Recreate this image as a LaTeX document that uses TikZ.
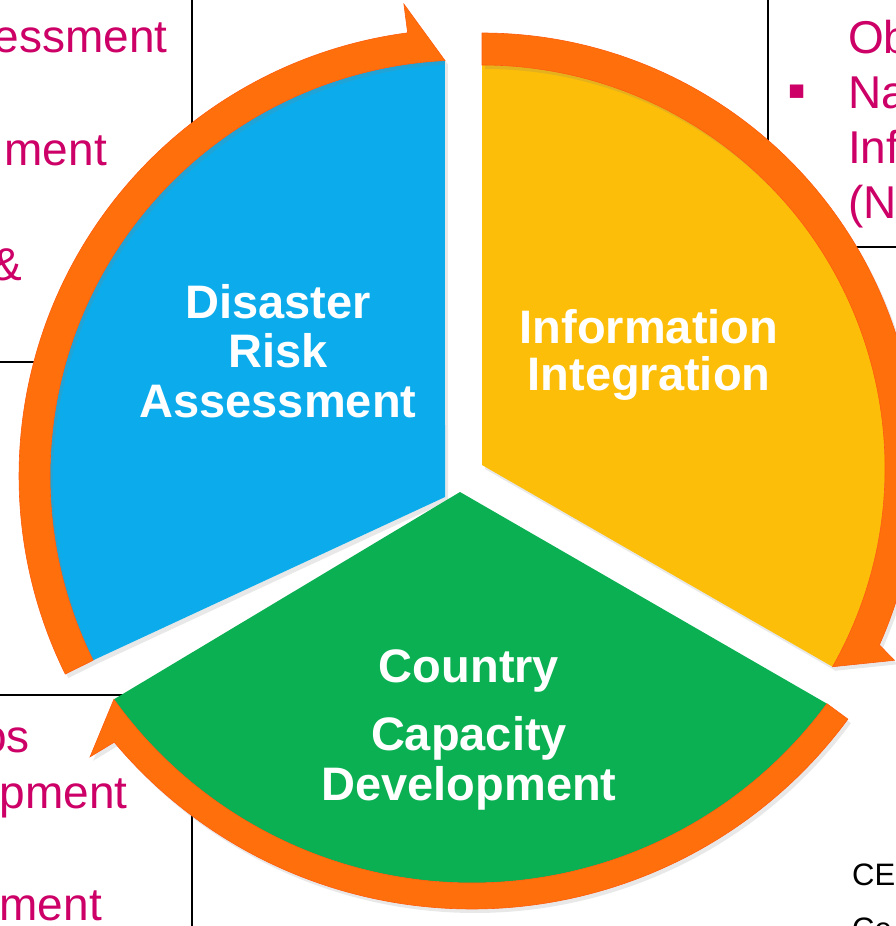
\documentclass[tikz,border=0pt]{standalone}
\usepackage{fontspec}
\setmainfont{Liberation Sans}
\usetikzlibrary{calc,shadows}

\definecolor{riskblue}{RGB}{12,172,236}
\definecolor{infoyellow}{RGB}{252,190,8}
\definecolor{capgreen}{RGB}{10,176,82}
\definecolor{bandorange}{RGB}{255,112,12}
\definecolor{notemagenta}{RGB}{204,0,102}

\begin{document}
\begin{tikzpicture}[x=1pt,y=-1pt,
  wedgetext/.style={text=white, font=\bfseries\fontsize{47}{49.5}\selectfont, align=center, anchor=base, inner sep=0pt},
  sidetext/.style={text=notemagenta, font=\fontsize{46}{55}\selectfont, inner sep=0pt},
  boxline/.style={draw=black, line width=2pt},
  wedge/.style={drop shadow={opacity=0.18, shadow xshift=3pt, shadow yshift=-4pt}},
  band/.style={fill=bandorange, draw=bandorange!80!red, line width=0.6pt,
    drop shadow={opacity=0.18, shadow xshift=3pt, shadow yshift=-4pt}}]
\useasboundingbox (0,0) rectangle (896,926);
\clip (0,0) rectangle (896,926);

% boxes behind the wheel
\draw[boxline] (-10,-10) rectangle (192,362);
\draw[boxline] (768,-10) rectangle (906,247);
\draw[boxline] (-10,695) rectangle (192,936);

% texts of the boxes
\node[sidetext, anchor=base east] (tlA) at (168,52) {essment};
\node[sidetext, anchor=base east] (tlB) at (107,165) {ment};
\node[sidetext, anchor=base east] (tlC) at (22,280) {\&};
\node[sidetext, anchor=base west] (trA) at (848,53) {Ob};
\node[sidetext, font=\fontsize{54}{55}\selectfont, anchor=base west] (trDot) at (787.5,108.5) {▪};
\node[sidetext, anchor=base west] (trB) at (848,108) {Na};
\node[sidetext, anchor=base west] (trC) at (848,163) {Inf};
\node[sidetext, anchor=base west] (trD) at (848,218) {(N};
\node[sidetext, anchor=base east] (blA) at (30,752) {os};
\node[sidetext, anchor=base east] (blB) at (128,808) {pment};
\node[sidetext, anchor=base east] (blC) at (102,920) {ment};
\node[font=\fontsize{31}{36}\selectfont, inner sep=0pt, anchor=base west] (brA) at (852,885) {CE};
\node[font=\fontsize{31}{36}\selectfont, inner sep=0pt, anchor=base west] (brB) at (852,939) {Ce};

% centres of the three arcs
\coordinate (cB) at (466,476);
\coordinate (cY) at (482,468);
\coordinate (cG) at (472,442);

% wedges
\fill[riskblue, wedge] (445,497) -- ($(cB)+(153.7:416)$) arc[start angle=153.7, end angle=267.1, radius=416] -- cycle;
\fill[infoyellow, wedge] (482,465) -- ($(cY)+(270:403)$) arc[start angle=270, end angle=389.55, radius=403] -- cycle;
\fill[capgreen, wedge] (460,492) -- ($(cG)+(36.4:441)$) arc[start angle=36.4, end angle=144.3, radius=441] -- cycle;

% orange arrows round the wedges
\filldraw[band] ($(cB)+(153.7:416)$) -- ($(cB)+(153.7:447)$) arc[start angle=153.7, end angle=262.5, radius=447]
  -- ($(cB)+(262.5:476)$) -- ($(cB)+(267.1:416)$) arc[start angle=267.1, end angle=153.7, radius=416] -- cycle;
\filldraw[band] ($(cY)+(270:403)$) -- ($(cY)+(270:435)$) arc[start angle=270, end angle=384, radius=435]
  -- ($(cY)+(385:455)$) -- ($(cY)+(389.55:403)$) arc[start angle=389.55, end angle=270, radius=403] -- cycle;
\filldraw[band] ($(cG)+(36.4:441)$) -- ($(cG)+(36.4:467)$) arc[start angle=36.4, end angle=140, radius=467]
  -- ($(cG)+(140.5:495)$) -- ($(cG)+(144.3:441)$) arc[start angle=144.3, end angle=36.4, radius=441] -- cycle;

% wedge labels (anchored on the last line)
\node[wedgetext] (risk) at (278,417) {Disaster\\Risk\\Assessment};
\node[wedgetext] (info) at (649,390) {Information\\[-2.5pt]Integration};
\node[wedgetext] (capacity) at (469,800) {Country\\[18.5pt]Capacity\\Development};
\end{tikzpicture}
\end{document}
